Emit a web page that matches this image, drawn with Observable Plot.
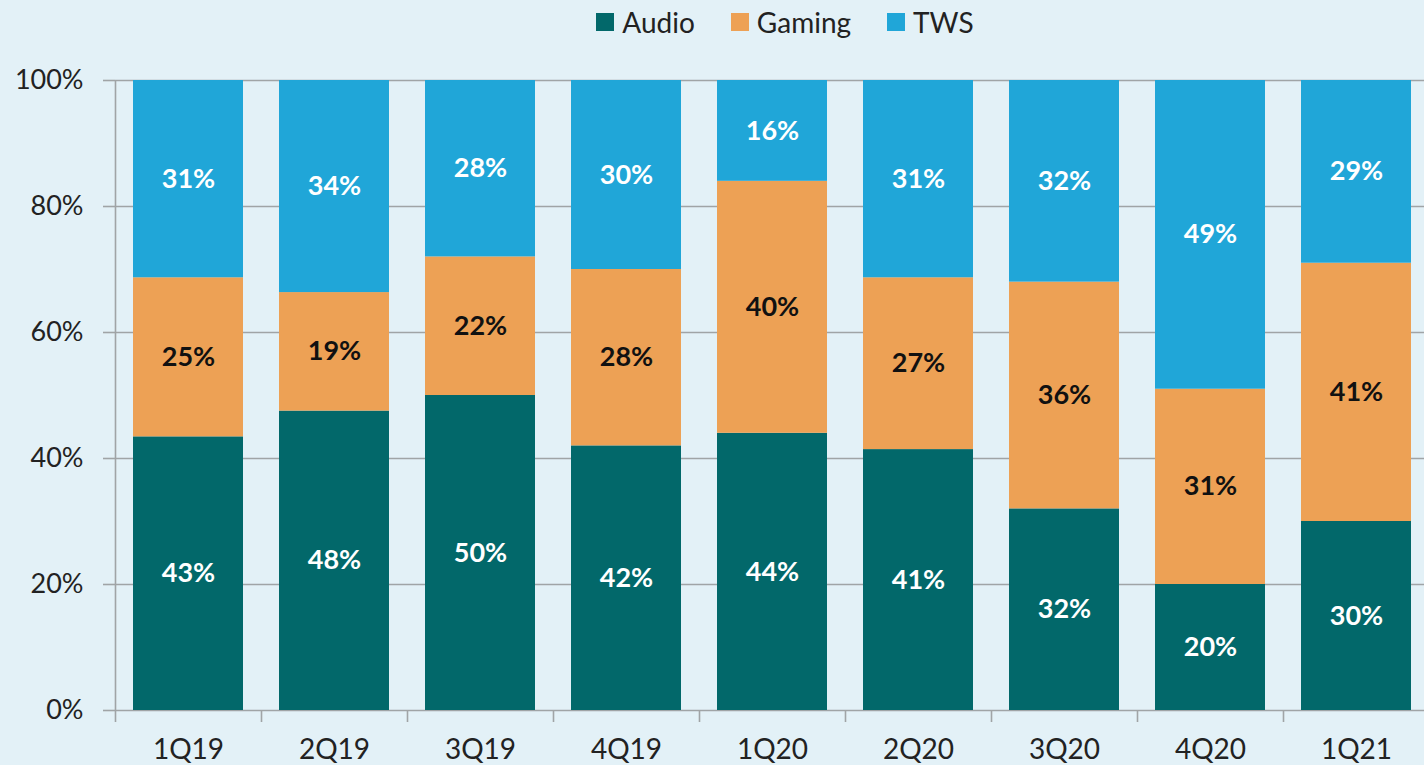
<!DOCTYPE html>
<html><head><meta charset="utf-8">
<script src="https://cdn.jsdelivr.net/npm/d3@7"></script>
<script src="https://cdn.jsdelivr.net/npm/@observablehq/plot@0.6"></script>
<style>
html,body{margin:0;padding:0;background:#e3f1f7;width:1424px;height:765px;overflow:hidden;font-family:Lato,sans-serif;}
#legend{height:44px;display:flex;justify-content:center;align-items:center;gap:36px;font-size:28px;color:#222;padding-left:146px;box-sizing:border-box;}
.item{display:flex;align-items:center;gap:8px}
.sw{width:18px;height:18px;display:inline-block}
svg{display:block}
</style></head><body>
<div id="legend"></div>
<div id="chart"></div>
<script>
const quarters = ["1Q19","2Q19","3Q19","4Q19","1Q20","2Q20","3Q20","4Q20","1Q21"];
const series = ["Audio","Gaming","TWS"];
const audio  = [43,48,50,42,44,41,32,20,30];
const gaming = [25,19,22,28,40,27,36,31,41];
const tws    = [31,34,28,30,16,31,32,49,29];
const colors = ["#02686a","#eda155","#20a6d8"];
const yTicks = [0,20,40,60,80,100];

const values = {Audio: audio, Gaming: gaming, TWS: tws};
const data = [];
quarters.forEach((q,i) => series.forEach(s => data.push({quarter:q, series:s, value:values[s][i]})));

// legend
const lg = document.getElementById("legend");
series.forEach((s,i) => {
  const it = document.createElement("div"); it.className="item";
  const sw = document.createElement("span"); sw.className="sw"; sw.style.background=colors[i];
  const t = document.createElement("span"); t.textContent = s;
  it.appendChild(sw); it.appendChild(t); lg.appendChild(it);
});

const X0 = 115, X1 = 1429;
const STEP = (X1 - X0) / quarters.length;
const grid = "#a0a4a6";
const stackOpts = {x:"quarter", y:"value", z:"series", offset:"normalize"};

const chart = Plot.plot({
  width:1424, height:721, marginTop:36, marginBottom:55, marginLeft:115, marginRight:0,
  style:{background:"transparent", fontFamily:"Lato, sans-serif", overflow:"visible"},
  x:{domain:quarters, range:[X0, X1], paddingInner:0.25, paddingOuter:0.125},
  y:{domain:[0,1]},
  color:{domain:series, range:colors},
  marks:[
    Plot.ruleY(yTicks, {y:d=>d/100, stroke:grid, strokeWidth:1.6, strokeOpacity:1}),
    Plot.barY(data, Plot.stackY({...stackOpts, fill:"series"})),
    Plot.ruleX([quarters[0]], {x:d=>d, dx:-STEP/2, stroke:grid, strokeWidth:1.6, insetBottom:-12}),
    Plot.ruleX(quarters.slice(1), {x:d=>d, dx:-STEP/2, y1:0, y2:0, stroke:grid, strokeWidth:1.6, insetBottom:-12}),
    Plot.axisY({ticks:yTicks.map(d=>d/100), tickFormat:d=>Math.round(d*100)+"%", tickSize:12, tickPadding:20, fontSize:27, fill:"#222", stroke:grid, strokeWidth:1.6, label:null}),
    Plot.axisX({tickSize:0, tickPadding:29, fontSize:28, fill:"#222", label:null}),
    Plot.text(data, Plot.filter(d=>d.series!=="Gaming", Plot.stackY({...stackOpts, text:d=>d.value+"%", fill:"white", fontWeight:"bold", fontSize:27}))),
    Plot.text(data, Plot.filter(d=>d.series==="Gaming", Plot.stackY({...stackOpts, text:d=>d.value+"%", fill:"#111", fontWeight:"bold", fontSize:27})))
  ]
});
document.getElementById("chart").appendChild(chart);
</script>
</body></html>
